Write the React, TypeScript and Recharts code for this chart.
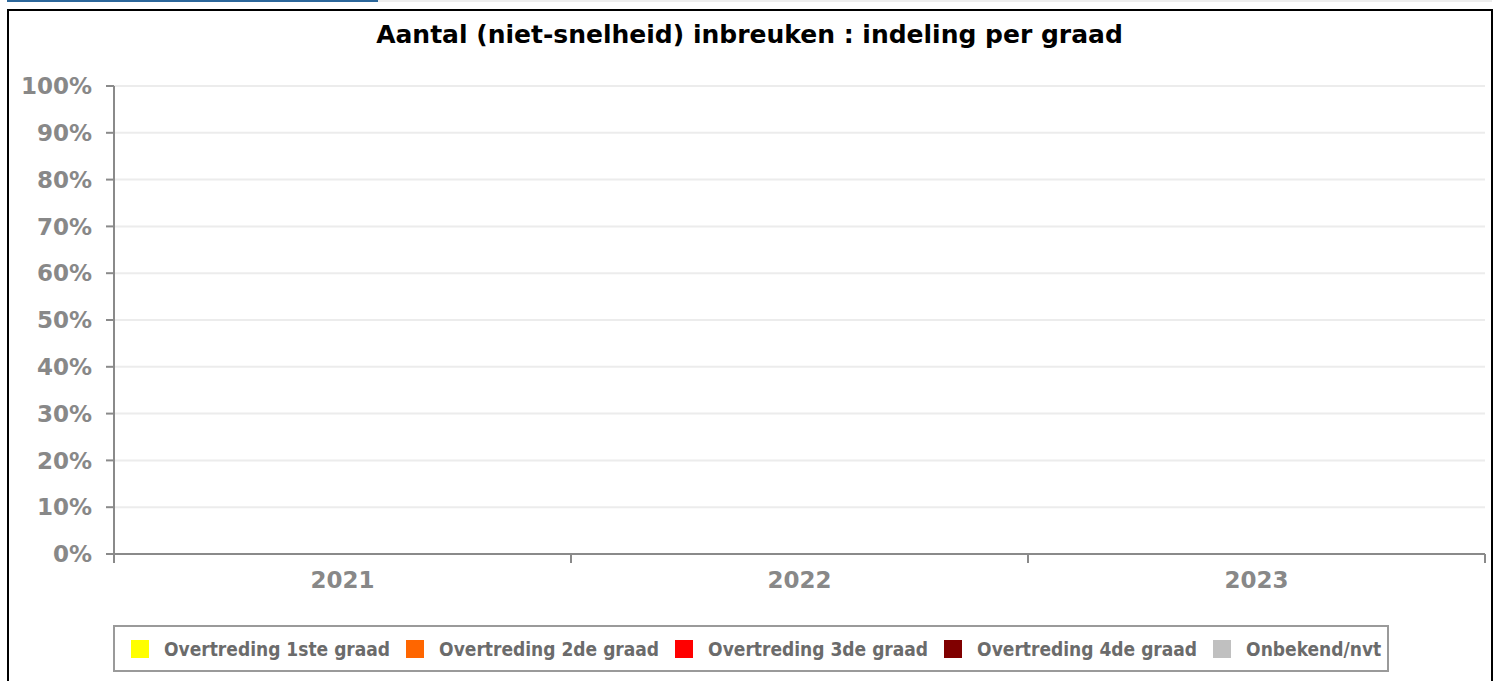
import { Bar, CartesianGrid, ComposedChart, Legend, XAxis, YAxis } from 'recharts';

// jaren op de x-as
const years = ['2021', '2022', '2023'];

// percentages per graad (leeg in de bron: alles 0)
const graad1 = [0, 0, 0];
const graad2 = [0, 0, 0];
const graad3 = [0, 0, 0];
const graad4 = [0, 0, 0];
const onbekend = [0, 0, 0];

const seriesNames = [
  'Overtreding 1ste graad',
  'Overtreding 2de graad',
  'Overtreding 3de graad',
  'Overtreding 4de graad',
  'Onbekend/nvt',
];
const seriesColors = ['#ffff00', '#ff6600', '#ff0000', '#800000', '#c0c0c0'];
const seriesKeys = ['g1', 'g2', 'g3', 'g4', 'nvt'];
const seriesValues = [graad1, graad2, graad3, graad4, onbekend];

const yTicks = [0, 10, 20, 30, 40, 50, 60, 70, 80, 90, 100];

const TITLE = 'Aantal (niet-snelheid) inbreuken : indeling per graad';

// category i sits in the band [i, i+1] of a numeric axis, so the tick
// marks can go on the band edges and the labels in the middle
const data = years.map((year, i) => {
  const row: Record<string, number | string> = { year, pos: i + 0.5 };
  seriesKeys.forEach((k, s) => {
    row[k] = seriesValues[s][i];
  });
  return row;
});

const xTicks: number[] = [];
for (let i = 0; i <= years.length; i++) {
  xTicks.push(i);
  if (i < years.length) xTicks.push(i + 0.5);
}

const AXIS = '#8a8a8a';
const tickFont = {
  fontFamily: '"DejaVu Sans", sans-serif',
  fontWeight: 'bold' as const,
  fontSize: 23,
  fill: '#888888',
};

function XTick(props: any) {
  const { x, y, payload } = props;
  const v = Number(payload.value);
  if (Number.isInteger(v)) {
    return <line x1={x} x2={x} y1={y} y2={y + 9} stroke={AXIS} strokeWidth={2} />;
  }
  return (
    <text x={x} y={y + 26} dy="0.355em" textAnchor="middle" {...tickFont}>
      {years[Math.floor(v)]}
    </text>
  );
}

function LegendBox() {
  return (
    <div
      style={{
        display: 'inline-flex',
        alignItems: 'center',
        boxSizing: 'border-box',
        height: 47,
        border: '2px solid #9a9a9a',
        padding: '0 6px 0 16px',
        background: '#fff',
      }}
    >
      {seriesNames.map((name, i) => (
        <div key={name} style={{ display: 'flex', alignItems: 'center' }}>
          <span
            style={{ width: 18, height: 18, background: seriesColors[i], marginRight: 15 }}
          />
          <span
            style={{
              fontFamily: '"DejaVu Sans Condensed", "DejaVu Sans", sans-serif',
              fontWeight: 'bold',
              fontSize: 19,
              color: '#6b6b6b',
              whiteSpace: 'nowrap',
              marginRight: i < seriesNames.length - 1 ? 16 : 0,
            }}
          >
            {name}
          </span>
        </div>
      ))}
    </div>
  );
}

export default function App() {
  return (
    <div
      style={{
        position: 'absolute',
        left: 0,
        top: 0,
        width: 1497,
        height: 681,
        overflow: 'hidden',
        background: '#fff',
      }}
    >
      <div style={{ position: 'absolute', left: 7, top: 0, width: 371, height: 2, background: '#2b679b' }} />
      <div style={{ position: 'absolute', left: 378, top: 0, width: 1114, height: 2, background: '#eeeeee' }} />
      <div
        style={{
          position: 'absolute',
          left: 7,
          top: 9,
          width: 1486,
          height: 700,
          boxSizing: 'border-box',
          border: '2px solid #000',
        }}
      />
      <div
        style={{
          position: 'absolute',
          left: 0,
          width: 1499,
          top: 20,
          textAlign: 'center',
          fontFamily: '"DejaVu Sans", sans-serif',
          fontWeight: 'bold',
          fontSize: 25,
          lineHeight: '30px',
          color: '#000',
        }}
      >
        {TITLE}
      </div>
      <div style={{ position: 'absolute', left: 0, top: 0 }}>
        <ComposedChart
          width={1497}
          height={681}
          data={data}
          margin={{ top: 86, right: 12, bottom: 87, left: 0 }}
        >
          <CartesianGrid vertical={false} stroke="#ececec" strokeWidth={2} />
          <XAxis
            type="number"
            dataKey="pos"
            domain={[0, years.length]}
            ticks={xTicks}
            interval={0}
            allowDecimals
            height={40}
            tickSize={0}
            tickMargin={0}
            tickLine={false}
            axisLine={{ stroke: AXIS, strokeWidth: 2 }}
            tick={<XTick />}
          />
          <YAxis
            domain={[0, 100]}
            ticks={yTicks}
            interval={0}
            width={114}
            tickSize={8}
            tickMargin={14}
            tickFormatter={(v) => `${v}%`}
            tick={tickFont}
            tickLine={{ stroke: AXIS, strokeWidth: 2 }}
            axisLine={{ stroke: AXIS, strokeWidth: 2 }}
          />
          <Legend
            layout="horizontal"
            verticalAlign="middle"
            wrapperStyle={{ left: 113, top: 625, width: 'auto' }}
            content={<LegendBox />}
          />
          {seriesKeys.map((k, i) => (
            <Bar
              key={k}
              dataKey={k}
              name={seriesNames[i]}
              stackId="graad"
              fill={seriesColors[i]}
              isAnimationActive={false}
            />
          ))}
        </ComposedChart>
      </div>
    </div>
  );
}
